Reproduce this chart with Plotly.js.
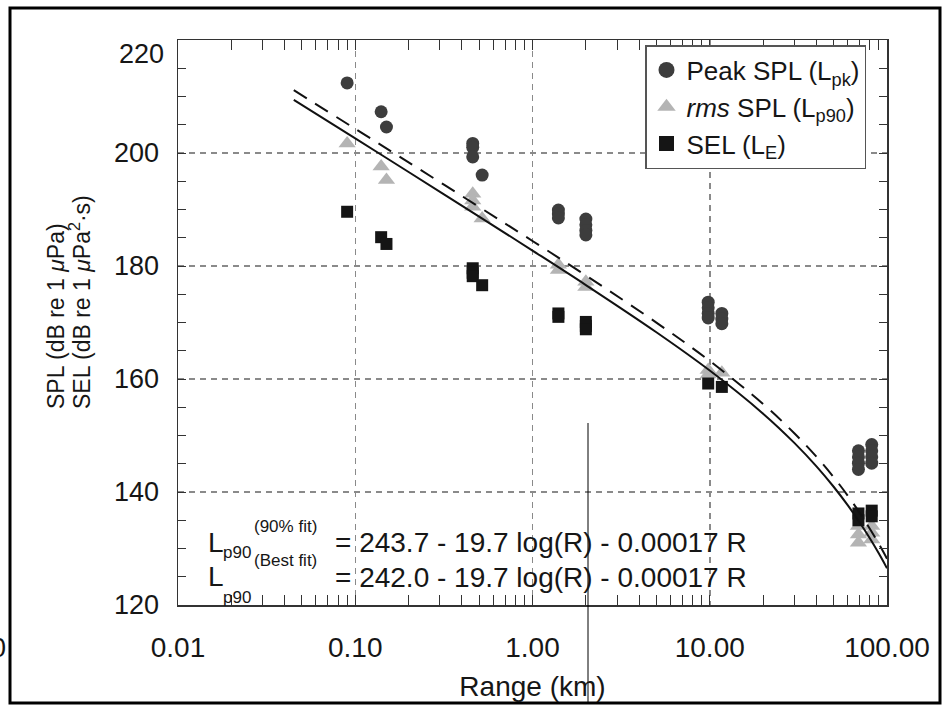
<!DOCTYPE html>
<html>
<head>
<meta charset="utf-8">
<script src="https://cdn.plot.ly/plotly-3.0.1.min.js"></script>
<style>html,body{margin:0;padding:0;background:#fff;}#chart{width:946px;height:707px;}</style>
</head>
<body>
<div id="chart"></div>
<script>
// ---- data ----
const peakRange = [0.09, 0.14, 0.15, 0.46, 0.46, 0.46, 0.52, 1.40, 1.40, 1.40, 2.0, 2.0, 2.0, 2.0, 9.8, 9.8, 9.8, 9.8, 11.7, 11.7, 11.7, 69, 69, 69, 69, 82, 82, 82, 82];
const peakSPL = [212.4, 207.3, 204.6, 201.7, 201.0, 199.3, 196.1, 189.9, 189.2, 188.5, 188.3, 187.3, 186.3, 185.5, 173.6, 172.6, 171.6, 170.8, 171.6, 170.6, 169.8, 147.3, 146.2, 145.1, 144.0, 148.4, 147.3, 146.2, 145.1];

const rmsRange = [0.09, 0.14, 0.15, 0.46, 0.46, 0.46, 0.52, 1.40, 1.40, 2.0, 2.0, 9.8, 9.8, 11.7, 69, 69, 69, 82, 82, 82];
const rmsSPL = [201.7, 197.6, 195.2, 192.8, 191.6, 190.5, 188.4, 180.2, 179.3, 177.2, 176.3, 161.6, 160.8, 161.1, 134.0, 132.5, 131.0, 134.0, 132.8, 131.6];

const selRange = [0.09, 0.14, 0.15, 0.46, 0.46, 0.46, 0.52, 1.40, 1.40, 2.0, 2.0, 2.0, 9.8, 11.7, 69, 69, 82, 82];
const selLE = [189.6, 185.1, 183.9, 179.6, 178.8, 178.2, 176.6, 171.6, 171.0, 170.1, 169.4, 168.8, 159.2, 158.6, 136.2, 135.0, 136.7, 135.7];

// fit curves (values along the drawn lines)
const fitRange = [0.045, 0.1, 0.2, 0.5, 1, 2, 5, 10, 20, 30, 40, 50, 60, 70, 80, 90, 100];
const bestFit = [209.42, 202.58, 196.64, 188.75, 182.73, 176.63, 168.28, 161.50, 153.87, 148.70, 144.54, 140.93, 137.67, 134.65, 131.81, 129.10, 126.50];
const fit90 = [211.12, 204.28, 198.34, 190.45, 184.43, 178.33, 169.98, 163.20, 155.57, 150.40, 146.24, 142.63, 139.37, 136.35, 133.51, 130.80, 128.20];

const seriesNames = ['Peak SPL (L<sub>pk</sub>)', '<i>rms</i> SPL (L<sub>p90</sub>)', 'SEL (L<sub>E</sub>)'];

const xTickVals = [0.01, 0.1, 1, 10, 100];
const xTickText = ['0.01', '0.10', '1.00', '10.00', '100.00'];
const yTickVals = [120, 140, 160, 180, 200, 220];
const yTickText = ['120', '140', '160', '180', '200', ''];

const FONT = 'Liberation Sans, Arial, Helvetica, sans-serif';
const TXT = '#161616';

// pixel helpers for paper coordinates (plot area 178..887 x 40..605)
const px = v => (v - 178) / 709;
const py = v => (605 - v) / 565;

const markerStyles = [
  {symbol: 'circle', color: '#3d3d3d'},
  {symbol: 'triangle-up', color: '#b4b4b4'},
  {symbol: 'square', color: '#151515'}
];
const dataSizes = [13, 15, 12];
const legendSizes = [16, 16, 15];
const seriesX = [peakRange, rmsRange, selRange];
const seriesY = [peakSPL, rmsSPL, selLE];

const traces = [];
for (let i = 0; i < 3; i++) {
  traces.push({x: seriesX[i], y: seriesY[i], type: 'scatter', mode: 'markers', name: seriesNames[i],
    showlegend: false, legendgroup: 'g' + i,
    marker: Object.assign({size: dataSizes[i]}, markerStyles[i])});
}
// legend-only entries (larger symbols, as in the original key)
for (let i = 0; i < 3; i++) {
  traces.push({x: [null], y: [null], type: 'scatter', mode: 'markers', name: seriesNames[i],
    showlegend: true, legendgroup: 'g' + i,
    marker: Object.assign({size: legendSizes[i]}, markerStyles[i])});
}
traces.push({x: fitRange, y: fit90, type: 'scatter', mode: 'lines', showlegend: false,
   line: {color: '#111', width: 2, dash: '15px,10px', shape: 'spline'}});
traces.push({x: fitRange, y: bestFit, type: 'scatter', mode: 'lines', showlegend: false,
   line: {color: '#111', width: 2, shape: 'spline'}});

const gridStyle = {showgrid: true, gridcolor: '#8a8a8a', gridwidth: 1.5, griddash: '6px,5px'};

function ann(x, y, text, size, extra) {
  return Object.assign({xref: 'paper', yref: 'paper', x: px(x), y: py(y), xanchor: 'left', yanchor: 'middle',
    text: text, showarrow: false, font: {size: size, family: FONT, color: TXT}}, extra || {});
}

const layout = {
  width: 946, height: 707,
  margin: {l: 178, r: 59, t: 40, b: 102},
  paper_bgcolor: '#fff', plot_bgcolor: '#fff',
  font: {family: FONT, size: 24, color: TXT},
  showlegend: true,
  legend: {x: px(645), y: py(45), xanchor: 'left', yanchor: 'top', bgcolor: '#fff',
           bordercolor: '#555', borderwidth: 1.5, font: {size: 26, family: FONT, color: TXT},
           itemwidth: 30, tracegroupgap: 0},
  xaxis: Object.assign({
    type: 'log', range: [-2, 2], tickvals: xTickVals, ticktext: xTickText,
    ticks: 'inside', ticklen: 10, tickwidth: 1, tickcolor: '#333',
    minor: {ticks: 'inside', ticklen: 10, tickwidth: 1, tickcolor: '#333', dtick: 'D1', showgrid: false},
    showline: true, linecolor: '#333', linewidth: 1.5, mirror: 'allticks',
    zeroline: false, ticklabelstandoff: 17,
    tickfont: {size: 28, family: FONT, color: TXT},
    title: {text: 'Range (km)', font: {size: 28, family: FONT, color: TXT}, standoff: 14}
  }, gridStyle),
  yaxis: Object.assign({
    range: [120, 220], tickvals: yTickVals, ticktext: yTickText,
    ticks: 'inside', ticklen: 8, tickwidth: 1, tickcolor: '#333',
    minor: {ticks: 'inside', ticklen: 8, tickwidth: 1, tickcolor: '#333', dtick: 5, showgrid: false},
    showline: true, linecolor: '#333', linewidth: 1.5, mirror: 'allticks',
    zeroline: false, ticklabelstandoff: 12,
    tickfont: {size: 27, family: FONT, color: TXT}
  }, gridStyle),
  shapes: [
    {type: 'rect', xref: 'paper', yref: 'paper', x0: px(10), x1: px(940), y0: py(703), y1: py(8),
     line: {color: '#000', width: 3}, layer: 'above'},
    {type: 'line', xref: 'paper', yref: 'paper', x0: px(588), x1: px(588), y0: py(423), y1: py(702),
     line: {color: '#000', width: 1}, layer: 'above'}
  ],
  annotations: [
    // y axis title (two left-aligned rotated lines)
    ann(56, 411, 'SPL (dB re 1 <i>μ</i>Pa)', 23, {textangle: -90, xanchor: 'center', yanchor: 'bottom'}),
    ann(80, 411, 'SEL (dB re 1 <i>μ</i>Pa<sup>2</sup>·s)', 23, {textangle: -90, xanchor: 'center', yanchor: 'bottom'}),
    // top tick label, drawn lower as in the original
    ann(166, 54, '220', 27, {xanchor: 'right'}),
    // equations
    ann(206, 542, 'L', 28),
    ann(221, 552, 'p90', 17),
    ann(252, 526, '(90% fit)', 17),
    ann(333, 542, '= 243.7 - 19.7 log(R) - 0.00017 R', 28),
    ann(206, 576, 'L', 28),
    ann(221, 597, 'p90', 17),
    ann(252, 560, '(Best fit)', 17),
    ann(333, 577, '= 242.0 - 19.7 log(R) - 0.00017 R', 28),
    // clipped neighbour label at the left edge
    ann(8, 648, '0', 27, {xanchor: 'right'})
  ]
};

Plotly.newPlot('chart', traces, layout, {displayModeBar: false, staticPlot: true});
</script>
</body>
</html>
